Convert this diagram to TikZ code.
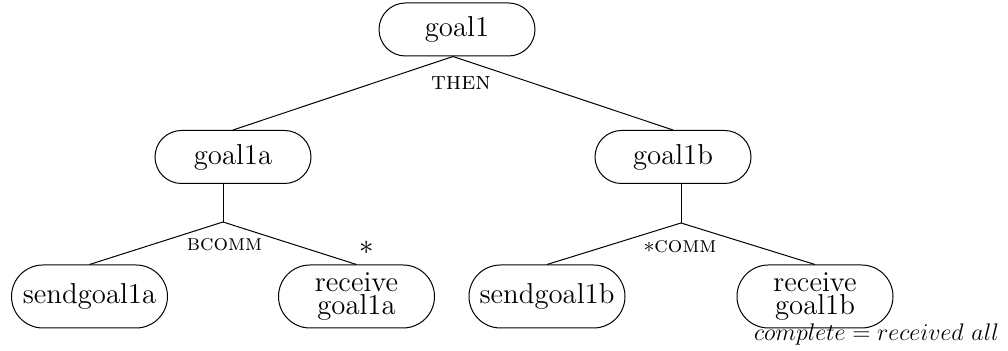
\documentclass[tikz,border=0pt]{standalone}
\usetikzlibrary{shapes.misc,calc}
\begin{document}
\begin{tikzpicture}[x=0.5pt,y=-0.5pt,line width=0.5pt,
  goalbox/.style={draw, rounded rectangle, minimum width=80pt, minimum height=26.5pt,
    inner sep=1pt, align=center, font=\fontsize{14.4}{11.8}\selectfont},
  leafbox/.style={goalbox, minimum height=31.5pt},
  oplabel/.style={inner sep=0pt, font=\fontsize{11.4}{13}\selectfont},
  notelabel/.style={inner sep=0pt, anchor=base, font=\fontsize{12}{14}\selectfont}]
\useasboundingbox (0,0) rectangle (1008,351);

% goal tree
\node[goalbox] (g1)  at (457,29.5) {goal1};
\node[goalbox] (g1a) at (233,157)  {goal1a};
\node[goalbox] (g1b) at (673,157)  {goal1b};
\node[leafbox] (s1a) at (89.5,296.5)  {sendgoal1a};
\node[leafbox] (r1a) at (356.5,296.5) {receive\\goal1a};
\node[leafbox] (s1b) at (547,296.5)   {sendgoal1b};
\node[leafbox] (r1b) at (815,296.5)   {receive\\goal1b};

% branching points
\coordinate (m0) at ($(g1a)!0.5!(g1b)$);
\coordinate (j0) at (m0 |- g1.south);
\coordinate (j1) at ($(s1a)!0.5!(r1a) + (0,-74.5)$);
\coordinate (j2) at ($(s1b)!0.5!(r1b) + (0,-73.5)$);

% connectors
\draw (g1a.north) -- (j0) -- (g1b.north);
\draw (j1 |- g1a.south) -- (j1);
\draw (s1a.north) -- (j1) -- (r1a.north);
\draw (j2 |- g1b.south) -- (j2);
\draw (s1b.north) -- (j2) -- (r1b.north);

% operator labels
\node[oplabel, font=\fontsize{12.6}{14}\selectfont] (then) at (461,83) {\textsc{then}};
\node[oplabel] (bcomm) at (224.5,245) {\textsc{bcomm}};
\node[inner sep=0pt, font=\fontsize{14.4}{11.5}\selectfont] (star) at (367,247.5) {$*$};
\node[oplabel] (comm)  at (680,247)   {$*$\textsc{comm}};
\node[notelabel] (note) at (876.5,341) {$complete = received\ all$};
\end{tikzpicture}
\end{document}
